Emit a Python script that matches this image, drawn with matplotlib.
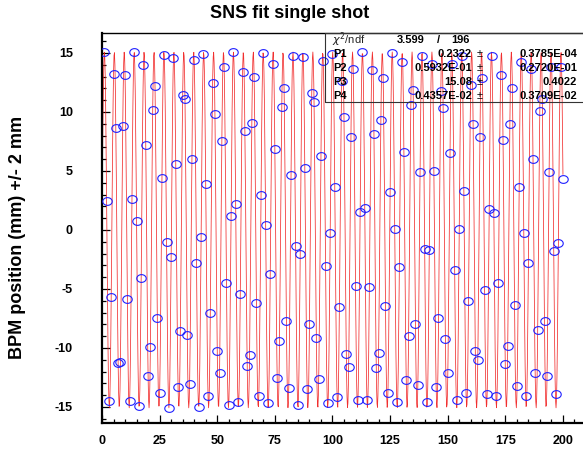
import numpy as np
import matplotlib
matplotlib.use('Agg')
import matplotlib.pyplot as plt
import matplotlib.ticker as ticker
from matplotlib.path import Path
from matplotlib.patches import Rectangle

plt.rcParams['font.family'] = ['Liberation Sans', 'DejaVu Sans']
plt.rcParams['axes.unicode_minus'] = False

# BPM readings, one per turn (turns 1..200), in mm
turns = np.arange(1, 201)
bpm_pos = [
    15.06, 2.47, -14.51, -5.71, 13.24, 8.66, -11.30, -11.18, 8.81, 13.15,
    -5.87, -14.46, 2.64, 15.05, 0.72, -14.89, -4.04, 13.99, 7.16, -12.39,
    -9.93, 10.17, 12.20, -7.45, -13.86, 4.36, 14.83, -1.05, -15.07, -2.32,
    14.55, 5.57, -13.31, -8.54, 11.40, 11.08, -8.93, -13.07, 6.01, 14.42,
    -2.79, -15.04, -0.56, 14.91, 3.89, -14.04, -7.03, 12.48, 9.81, -10.28,
    -12.11, 7.58, 13.80, -4.50, -14.81, 1.20, 15.07, 2.17, -14.59, -5.43,
    13.38, 8.41, -11.50, -10.60, 9.06, 13.00, -6.15, -14.10, 2.94, 15.03,
    0.42, -14.70, -3.75, 14.10, 6.89, -12.56, -9.40, 10.39, 12.02, -7.71,
    -13.40, 4.65, 14.77, -1.35, -14.80, -2.02, 14.63, 5.29, -13.45, -8.00,
    11.60, 10.87, -9.17, -12.60, 6.29, 14.33, -3.09, -14.70, -0.26, 14.95,
    3.60, -14.15, -6.50, 12.65, 9.58, -10.50, -11.60, 7.84, 13.68, -4.79,
    -14.40, 1.50, 15.08, 1.87, -14.40, -4.80, 13.52, 8.16, -11.69, -10.40,
    9.30, 12.84, -6.42, -13.80, 3.23, 15.00, 0.11, -14.60, -3.10, 14.21,
    6.62, -12.73, -9.00, 10.61, 11.83, -7.97, -13.10, 4.94, 14.71, -1.65,
    -14.60, -1.72, 14.10, 5.00, -13.30, -7.50, 11.79, 10.30, -9.20, -12.10,
    6.56, 14.10, -3.38, -14.40, 0.05, 14.70, 3.30, -13.80, -6.00, 12.30,
    9.00, -10.30, -11.00, 7.90, 12.90, -5.07, -13.90, 1.80, 14.70, 1.40,
    -14.10, -4.50, 13.10, 7.60, -11.40, -9.80, 9.00, 12.00, -6.40, -13.20,
    3.60, 14.20, -0.30, -14.10, -2.80, 13.60, 6.00, -12.10, -8.50, 10.10,
    11.10, -7.70, -12.40, 4.90, 13.80, -1.80, -13.90, -1.10, 13.80, 4.30,
]

# sine fit: P3*sin(2*pi*P1*x + P2) + P4
fit_par = [0.2322, 0.5932e-01, 15.08, 0.4357e-02]
par_text = ['0.2322', '0.5932E-01', '15.08', '0.4357E-02']
err_text = ['0.3785E-04', '0.2720E-01', '0.4022', '0.3709E-02']
chi2, ndf = 3.599, 196

W, H = 583, 449

def fx(x):
    return x / W

def fy(y):
    return 1 - y / H

fig = plt.figure(figsize=(W / 100, H / 100), dpi=100)
fig.patch.set_facecolor('white')
ax = fig.add_axes([fx(102), fy(423), fx(586) - fx(102), fy(33) - fy(423)])

# fit curve, sampled like a TF1 with npx=1000
xf = np.linspace(0, 200, 1000)
p1, p2, p3, p4 = fit_par
ax.plot(xf, p3 * np.sin(2 * np.pi * p1 * xf + p2) + p4,
        color='#f01818', lw=0.55, alpha=0.9, zorder=2)

# open circles, a bit wider than tall
t = np.linspace(0, 2 * np.pi, 40)
ellipse = Path(np.column_stack([np.cos(t), 0.82 * np.sin(t)]), closed=True)
ax.plot(turns, bpm_pos, linestyle='none', marker=ellipse, markersize=6.8,
        markerfacecolor='none', markeredgecolor='#1f1fff',
        markeredgewidth=0.8, zorder=3)

ax.set_xlim(0, 210)
ax.set_ylim(-16.36, 16.69)
ax.xaxis.set_major_locator(ticker.MultipleLocator(25))
ax.xaxis.set_minor_locator(ticker.MultipleLocator(5))
ax.yaxis.set_major_locator(ticker.MultipleLocator(5))
ax.yaxis.set_minor_locator(ticker.MultipleLocator(1))
ax.tick_params(which='both', direction='in', top=False, right=False, width=0.9)
ax.tick_params(which='major', length=5.8)
ax.tick_params(which='minor', length=2.9)
ax.tick_params(axis='x', which='major', pad=9, labelsize=9)
ax.tick_params(axis='y', which='major', pad=21, labelsize=9)
for lab in ax.get_xticklabels() + ax.get_yticklabels():
    lab.set_fontweight('bold')
for side in ('left', 'bottom'):
    ax.spines[side].set_linewidth(1.6)
for side in ('top', 'right'):
    ax.spines[side].set_linewidth(1.0)

fig.text(fx(290), fy(14), 'SNS fit single shot', ha='center', va='center',
         fontsize=13, fontweight='bold')
fig.text(fx(18), fy(237), 'BPM position (mm) +/- 2 mm', ha='center',
         va='center', rotation=90, fontsize=13, fontweight='bold')

# stats box
fig.patches.append(Rectangle((fx(325), fy(102)), fx(600) - fx(325),
                             fy(33) - fy(102), transform=fig.transFigure,
                             fill=False, edgecolor='#333333', lw=0.8,
                             zorder=5))
fs = 8
fig.text(fx(332), fy(40), r'$\chi^2$/ndf', ha='left', va='center',
         fontsize=fs, color='#222222')
fig.text(fx(425), fy(40), f'{chi2:.3f}', ha='right', va='center',
         fontsize=fs, fontweight='bold')
fig.text(fx(438), fy(40), '/', ha='center', va='center', fontsize=fs,
         fontweight='bold')
fig.text(fx(470), fy(40), f'{ndf}', ha='right', va='center', fontsize=fs,
         fontweight='bold')
for i in range(4):
    yy = fy(54 + 14 * i)
    fig.text(fx(333), yy, f'P{i + 1}', ha='left', va='center', fontsize=fs,
             fontweight='bold')
    fig.text(fx(472), yy, par_text[i], ha='right', va='center', fontsize=fs,
             fontweight='bold')
    fig.text(fx(480), yy, '\u00b1', ha='center', va='center', fontsize=fs)
    fig.text(fx(577), yy, err_text[i], ha='right', va='center', fontsize=fs,
             fontweight='bold')

fig.savefig('out.png', dpi=100)
